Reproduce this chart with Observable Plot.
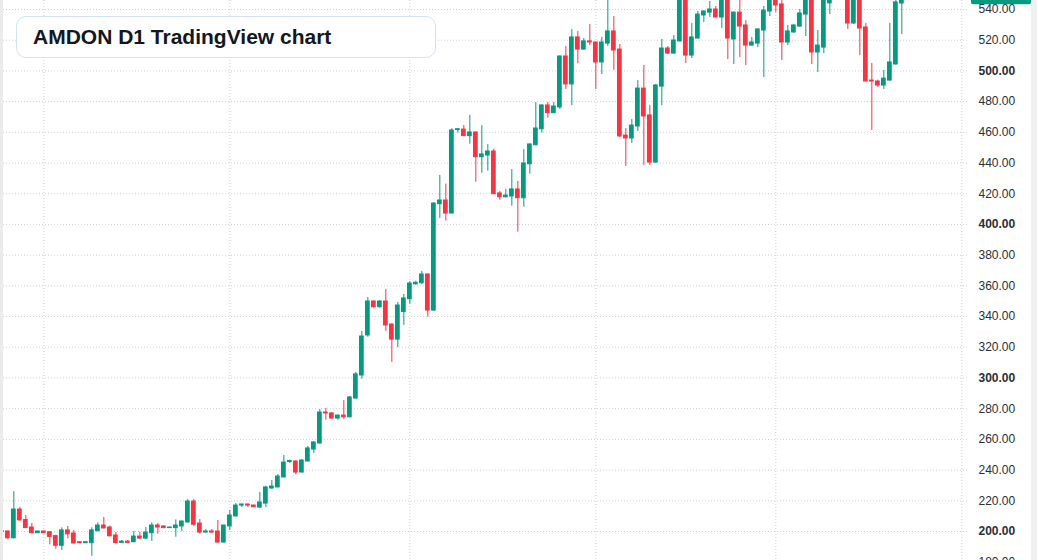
<!DOCTYPE html>
<html>
<head>
<meta charset="utf-8">
<script src="https://cdn.jsdelivr.net/npm/d3@7"></script>
<script src="https://cdn.jsdelivr.net/npm/@observablehq/plot@0.6"></script>
<style>
  html, body { margin: 0; padding: 0; background: #ffffff; }
  #wrap { position: relative; width: 1037px; height: 560px; overflow: hidden; background: #ffffff; }
  #chart { position: absolute; left: 0; top: 0; }
  #title {
    position: absolute; left: 16px; top: 16px; width: 420px; height: 42px;
    box-sizing: border-box; border: 1px solid #d3e2f6; border-radius: 10px;
    background: #ffffff; padding-left: 16px;
    font: bold 21px "Liberation Sans", Arial, sans-serif; color: #131722;
    line-height: 40px; white-space: nowrap;
  }
  .edge { position: absolute; top: 0; height: 560px; background: #ebebeb; }
</style>
</head>
<body>
<div id="wrap">
  <div id="chart"></div>
  <div class="edge" style="left:0;width:3px"></div>
  <div class="edge" style="left:1031px;width:6px;background:#f0f0f0"></div>
  <div id="title">AMDON D1 TradingView chart</div>
</div>
<script>
// Daily OHLC for AMDON, one bar per calendar day starting 25 Jul 2023
const firstDay = new Date(Date.UTC(2023, 6, 25));

const open = [
  199.8, 200.0, 195.6, 214.3, 207.5, 202.6, 198.9, 200.0, 199.5, 197.0,
  190.7, 200.7, 198.7, 193.0, 192.4, 192.4, 200.2, 203.9, 202.6, 197.4,
  192.6, 193.4, 193.0, 196.7, 195.4, 198.9, 203.9, 203.3, 202.2, 202.2,
  203.3, 205.9, 219.5, 205.2, 199.3, 200.0, 200.0, 192.8, 203.3, 209.8,
  216.9, 217.6, 216.9, 215.6, 218.2, 228.0, 228.7, 235.2, 245.3, 245.6,
  238.4, 245.6, 253.4, 257.3, 277.5, 276.9, 273.6, 275.5, 274.4, 286.6,
  301.6, 327.7, 349.8, 346.1, 349.8, 334.8, 325.0, 343.0, 351.3, 361.0,
  361.7, 367.4, 343.9, 413.2, 415.6, 407.1, 461.5, 461.8, 457.5, 459.9,
  443.8, 444.9, 447.5, 420.2, 417.7, 418.2, 422.8, 417.1, 439.2, 451.6,
  462.0, 477.5, 472.5, 476.2, 509.4, 491.2, 521.8, 513.9, 519.2, 518.5,
  505.5, 517.8, 525.7, 513.9, 457.9, 456.0, 463.8, 488.5, 471.0, 440.3,
  489.8, 514.6, 511.3, 519.2, 552.0, 510.0, 521.1, 536.1, 538.0, 540.0,
  534.8, 548.0, 520.5, 538.0, 529.6, 516.5, 517.8, 526.3, 538.7, 548.0,
  543.3, 518.5, 525.0, 528.9, 536.7, 552.0, 512.0, 515.2, 544.0, 550.0,
  560.0, 556.0, 530.9, 552.0, 528.3, 493.7, 493.1, 490.5, 493.7, 504.2,
  543.9
];
const high = [
  200.5, 200.4, 226.0, 215.6, 210.4, 205.2, 200.2, 200.3, 200.0, 197.6,
  202.4, 203.3, 200.7, 193.2, 193.2, 202.4, 205.7, 209.1, 203.5, 199.3,
  194.1, 194.1, 200.0, 199.5, 202.6, 205.7, 205.2, 203.6, 202.8, 207.6,
  206.8, 220.8, 220.8, 207.8, 201.3, 201.3, 207.2, 204.0, 213.7, 218.2,
  217.8, 217.8, 217.2, 225.4, 229.5, 233.2, 237.1, 249.5, 246.5, 246.0,
  246.9, 255.4, 258.4, 279.5, 280.1, 277.3, 275.8, 285.3, 288.0, 303.6,
  330.3, 352.4, 350.2, 350.4, 357.6, 335.4, 349.2, 354.4, 362.8, 363.0,
  369.4, 367.8, 414.2, 431.9, 426.3, 462.3, 462.5, 464.4, 471.0, 460.2,
  464.4, 452.0, 449.0, 421.5, 422.8, 435.8, 428.0, 448.8, 452.4, 479.4,
  477.9, 479.4, 479.4, 509.8, 515.9, 527.0, 525.7, 521.1, 530.2, 518.9,
  521.8, 550.0, 535.4, 517.2, 462.5, 468.3, 493.7, 503.5, 477.4, 491.2,
  520.5, 515.9, 523.0, 556.0, 555.0, 530.9, 538.7, 539.0, 545.2, 542.0,
  551.0, 550.0, 538.4, 547.0, 532.8, 521.8, 527.3, 542.0, 553.0, 551.0,
  547.0, 529.6, 530.0, 540.0, 556.0, 555.0, 526.3, 554.0, 553.0, 564.0,
  565.0, 558.0, 556.0, 555.0, 530.9, 504.8, 494.0, 500.3, 530.9, 548.0,
  551.0
];
const low = [
  199.6, 194.6, 195.2, 206.7, 202.0, 198.5, 198.7, 198.7, 191.3, 188.5,
  187.6, 195.2, 191.7, 192.2, 192.2, 183.9, 199.8, 201.8, 196.5, 192.0,
  192.4, 192.4, 192.8, 194.8, 194.6, 193.5, 198.2, 202.0, 202.0, 196.3,
  200.0, 205.4, 203.3, 198.2, 199.0, 199.0, 192.5, 192.6, 200.7, 209.5,
  215.6, 215.6, 215.6, 215.0, 215.6, 227.6, 228.5, 235.0, 244.3, 237.1,
  238.2, 245.4, 250.8, 257.0, 272.5, 272.9, 272.5, 272.9, 274.0, 286.2,
  299.2, 326.5, 345.4, 345.4, 330.3, 310.1, 319.8, 334.2, 348.0, 360.5,
  360.8, 339.6, 343.2, 403.9, 402.2, 407.0, 459.5, 457.3, 452.3, 427.5,
  433.4, 434.7, 419.5, 415.8, 417.3, 411.9, 395.0, 411.2, 432.7, 451.3,
  459.4, 469.2, 472.2, 474.9, 487.9, 477.4, 504.8, 513.5, 516.5, 487.9,
  497.7, 515.9, 500.3, 456.6, 437.7, 452.7, 460.5, 438.4, 438.4, 440.0,
  477.4, 510.7, 511.0, 518.8, 504.8, 508.1, 520.8, 531.5, 534.8, 534.5,
  527.6, 507.4, 504.2, 508.7, 503.5, 516.2, 515.2, 495.7, 535.4, 538.0,
  506.8, 516.5, 524.6, 528.3, 522.4, 504.2, 499.0, 511.3, 536.7, 548.0,
  550.0, 527.0, 530.2, 510.0, 492.8, 461.2, 489.2, 487.9, 493.4, 503.8,
  523.7
];
const close = [
  200.3, 195.6, 214.3, 207.2, 202.2, 198.9, 200.0, 198.9, 196.5, 190.7,
  200.7, 198.2, 192.2, 192.4, 193.0, 200.7, 203.9, 202.0, 196.9, 192.4,
  193.4, 192.6, 196.7, 195.4, 199.3, 203.9, 202.6, 202.2, 202.6, 203.9,
  206.5, 219.5, 204.4, 199.3, 200.0, 199.3, 192.8, 203.9, 210.4, 216.9,
  217.6, 216.9, 215.8, 218.9, 228.7, 229.3, 235.8, 244.9, 245.9, 238.4,
  246.2, 254.1, 258.0, 277.5, 276.9, 273.6, 275.5, 274.4, 287.3, 302.3,
  327.0, 349.8, 346.1, 349.8, 334.2, 325.0, 347.2, 351.8, 361.5, 362.0,
  367.4, 343.9, 413.6, 415.6, 407.1, 461.2, 462.0, 457.5, 459.9, 443.8,
  445.6, 447.5, 419.7, 417.7, 418.8, 422.8, 417.1, 439.7, 452.1, 462.5,
  477.5, 472.5, 476.8, 509.4, 491.2, 521.8, 513.9, 519.2, 518.5, 505.5,
  518.5, 525.7, 513.3, 457.3, 456.0, 464.4, 488.5, 470.3, 440.3, 490.5,
  514.6, 511.3, 519.8, 552.0, 510.0, 521.8, 536.7, 538.7, 540.0, 534.8,
  548.0, 521.1, 538.0, 528.9, 516.5, 518.5, 527.0, 539.3, 550.0, 542.6,
  518.5, 525.7, 529.6, 537.4, 552.0, 512.0, 516.5, 550.0, 550.0, 560.0,
  556.0, 530.9, 552.0, 527.6, 493.1, 493.1, 490.5, 495.0, 505.5, 544.6,
  549.0
];

// Price scale ticks (every 20), with round hundreds drawn in bold
const priceTicks = [180, 200, 220, 240, 260, 280, 300, 320, 340, 360, 380, 400, 420, 440, 460, 480, 500, 520, 540, 560];
const boldTicks = [200, 300, 400, 500];

const upColor = "#089981";
const downColor = "#f23645";
const gridColor = "#cdd0d6";
const DAY = 864e5;

const bars = open.map((o, i) => ({
  date: new Date(firstDay.getTime() + i * DAY),
  open: o, high: high[i], low: low[i], close: close[i],
  dir: close[i] >= o ? "up" : "down"
}));

// Visible window: a little before the first bar up to the first days of January
const xStart = new Date(firstDay.getTime() - 0.222 * DAY);
const xEnd = new Date(firstDay.getTime() + 160.944 * DAY);
const monthStarts = d3.utcMonths(xStart, xEnd);
const halfBody = 0.31 * DAY;

const chart = Plot.plot({
  width: 1037,
  height: 560,
  marginLeft: 0,
  marginRight: 70,
  marginTop: 0,
  marginBottom: 0,
  style: { fontFamily: "'Liberation Sans', Arial, sans-serif", fontSize: "12px", color: "#2a2e39", background: "transparent" },
  x: { type: "utc", domain: [xStart, xEnd], axis: null },
  y: { domain: [181.11, 545.86] },
  color: { domain: ["up", "down"], range: [upColor, downColor] },
  marks: [
    Plot.gridX({ ticks: monthStarts, stroke: gridColor, strokeOpacity: 1, strokeDasharray: "1,2" }),
    Plot.gridY({ ticks: priceTicks, stroke: gridColor, strokeOpacity: 1, strokeDasharray: "1,2" }),
    Plot.ruleX(bars, { x: "date", y1: "low", y2: "high", stroke: "dir", strokeWidth: 1, clip: true }),
    Plot.rect(bars, {
      x1: d => new Date(d.date.getTime() - halfBody),
      x2: d => new Date(d.date.getTime() + halfBody),
      y1: "open", y2: "close",
      fill: "dir", stroke: "dir", strokeWidth: 1, clip: true
    }),
    Plot.axisY({
      ticks: priceTicks.filter(t => !boldTicks.includes(t)),
      anchor: "right", tickSize: 0, tickPadding: 11, label: null,
      tickFormat: d => d.toFixed(2), fontSize: 12
    }),
    Plot.axisY({
      ticks: boldTicks,
      anchor: "right", tickSize: 0, tickPadding: 11, label: null,
      tickFormat: d => d.toFixed(2), fontSize: 12, fontWeight: "bold"
    })
  ]
});

document.getElementById("chart").appendChild(chart);

// Last-price marker on the price scale
const last = bars[bars.length - 1];
const yLast = chart.scale("y").apply(last.close);
const svg = d3.select(chart);
const tag = svg.append("g").attr("transform", `translate(971,${yLast})`);
tag.append("rect")
  .attr("x", 0).attr("y", -9).attr("width", 60).attr("height", 18).attr("rx", 2)
  .attr("fill", last.close >= last.open ? upColor : downColor);
tag.append("text")
  .attr("x", 30).attr("y", 0).attr("dy", "0.35em")
  .attr("text-anchor", "middle").attr("fill", "#ffffff")
  .attr("font-size", 12)
  .text(last.close.toFixed(2));
</script>
</body>
</html>
